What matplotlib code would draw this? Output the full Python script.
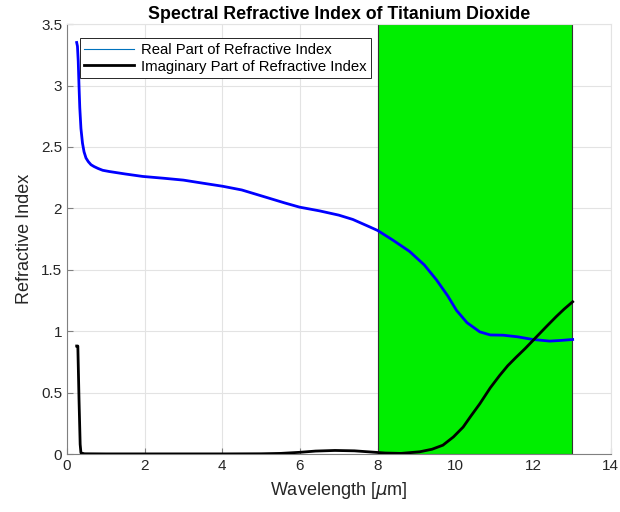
import numpy as np
import matplotlib.pyplot as plt
from matplotlib.lines import Line2D
from matplotlib.patches import Rectangle

plt.rcParams['font.family'] = ['Liberation Sans', 'DejaVu Sans']

# real part n(lambda)
wl_n = [0.25, 0.27, 0.29, 0.31, 0.33, 0.36, 0.40, 0.44, 0.49, 0.55, 0.62, 0.70, 0.80, 0.92,
        1.09, 1.5, 1.95, 2.5, 3.0, 3.5, 4.01, 4.5, 5.13, 5.6, 5.99, 6.5, 7.0, 7.36, 7.79,
        8.0, 8.4, 8.82, 9.2, 9.51, 9.8, 10.03, 10.3, 10.63, 10.9, 11.23, 11.6, 12.0, 12.43,
        12.7, 13.02]
n_real = [3.35, 3.32, 3.20, 3.00, 2.82, 2.65, 2.53, 2.46, 2.41, 2.38, 2.355, 2.34, 2.325, 2.31,
          2.30, 2.28, 2.26, 2.245, 2.23, 2.205, 2.18, 2.15, 2.09, 2.045, 2.01, 1.98, 1.945,
          1.91, 1.85, 1.82, 1.74, 1.65, 1.54, 1.42, 1.29, 1.17, 1.07, 0.995, 0.97, 0.968,
          0.955, 0.933, 0.92, 0.925, 0.933]

# imaginary part k(lambda)
wl_k = [0.25, 0.28, 0.31, 0.34, 0.36, 0.45, 1.0, 2.0, 3.0, 4.0, 5.0, 5.5, 6.0, 6.4, 6.9,
        7.4, 7.8, 8.2, 8.6, 9.08, 9.4, 9.68, 9.95, 10.2, 10.4, 10.63, 10.9, 11.14,
        11.35, 11.57, 11.8, 12.09, 12.35, 12.6, 12.8, 13.02]
k_imag = [0.88, 0.88, 0.45, 0.08, 0.01, 0.003, 0.002, 0.002, 0.002, 0.002, 0.003, 0.006,
          0.015, 0.025, 0.03, 0.027, 0.018, 0.009, 0.006, 0.019, 0.04, 0.073, 0.14, 0.22,
          0.31, 0.41, 0.54, 0.64, 0.72, 0.79, 0.86, 0.955, 1.04, 1.12, 1.18, 1.24]

# atmospheric window band
band = (8, 13)

fig = plt.figure(figsize=(6.2, 5.12), dpi=100)
ax = fig.add_axes([0.108, 0.113, 0.877, 0.840])

ax.add_patch(Rectangle((band[0], 0), band[1] - band[0], 3.5, facecolor='#00EE00',
                       edgecolor='#333333', linewidth=0.8, zorder=1))
ax.plot(wl_n, n_real, color='#0000FF', linewidth=2, zorder=3)
ax.plot(wl_k, k_imag, color='black', linewidth=2, zorder=3)

ax.set_xlim(0, 14)
ax.set_ylim(0, 3.5)
ax.set_xticks(np.arange(0, 15, 2))
ax.set_yticks(np.arange(0, 3.6, 0.5))
ax.set_yticklabels(['0', '0.5', '1', '1.5', '2', '2.5', '3', '3.5'])
ax.grid(True, color='#E3E3E3', linewidth=0.8, zorder=0)
ax.set_axisbelow(True)
ax.tick_params(direction='in', labelsize=11, labelcolor='#262626', color='#808080', length=4)
for side in ['left', 'bottom']:
    ax.spines[side].set_color('#808080')
    ax.spines[side].set_linewidth(0.8)
for side in ['top', 'right']:
    ax.spines[side].set_color('#E3E3E3')
    ax.spines[side].set_linewidth(0.8)

ax.set_title('Spectral Refractive Index of Titanium Dioxide', fontsize=12.8,
             fontweight='bold', pad=4)
ax.set_xlabel(r'Wavelength [$\mu$m]', fontsize=13, color='#262626', labelpad=5)
ax.set_ylabel('Refractive Index', fontsize=13, color='#262626', labelpad=6)

handles = [Line2D([0], [0], color='#0072BD', linewidth=0.8, label='Real Part of Refractive Index'),
           Line2D([0], [0], color='black', linewidth=2, label='Imaginary Part of Refractive Index')]
leg = ax.legend(handles=handles, loc='upper left', bbox_to_anchor=(0.024, 0.967),
                fontsize=10.7, fancybox=False, framealpha=1, edgecolor='#262626',
                borderpad=0.3, labelspacing=0.2, handlelength=3.3, handletextpad=0.5,
                borderaxespad=0)
leg.get_frame().set_linewidth(0.7)

plt.savefig('out.png')
